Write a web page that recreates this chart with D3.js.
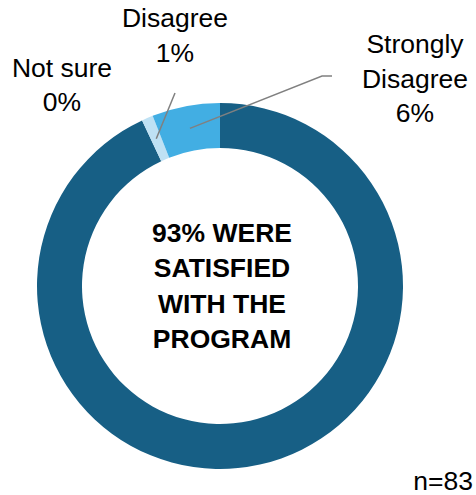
<!DOCTYPE html>
<meta charset="utf-8">
<script src="https://d3js.org/d3.v7.min.js"></script>
<style>
  body { margin: 0; background: #fff; }
  text { font-family: "Liberation Sans", Arial, sans-serif; fill: #000; }
</style>
<div id="my_dataviz"></div>
<script>

  // chart data
  var categories = ["Satisfied", "Not sure", "Disagree", "Strongly Disagree"];
  var values = [93, 0, 1, 6];
  var colors = ["#175f85", "#175f85", "#bee1f4", "#42aee3"];
  var centerLines = ["93% WERE", "SATISFIED", "WITH THE", "PROGRAM"];
  var sampleLabel = "n=83";

  var width = 476, height = 495;
  var cx = 220, cy = 286, outerR = 183, innerR = 138;

  var svg = d3.select("#my_dataviz")
    .append("svg")
      .attr("width", width)
      .attr("height", height);

  var g = svg.append("g")
      .attr("transform", "translate(" + cx + "," + cy + ")");

  var data = categories.map(function(c, i) { return {name: c, value: values[i], color: colors[i]}; });

  var pie = d3.pie()
    .sort(null)
    .value(function(d) { return d.value; });

  var arc = d3.arc()
    .innerRadius(innerR)
    .outerRadius(outerR);

  var arcs = pie(data);

  g.selectAll("path")
    .data(arcs)
    .enter()
    .append("path")
      .attr("d", arc)
      .style("fill", function(d) { return d.data.color; });

  // label placement (relative to donut centre); leader lines go to the arc centroid
  var labelLayout = {
    "Not sure":          {x: -158, y: [-209, -175], line: null},
    "Disagree":          {x: -45,  y: [-259, -224], line: [[-45, -193]]},
    "Strongly Disagree": {x: 195,  y: [-233, -198, -164], line: [[112, -210], [102, -210]]}
  };

  arcs.forEach(function(d) {
    var lay = labelLayout[d.data.name];
    if (!lay) return;
    var lines = d.data.name === "Strongly Disagree" ? ["Strongly", "Disagree"] : [d.data.name];
    lines.push(d.data.value + "%");

    if (lay.line) {
      var c = arc.centroid(d);
      var pts = lay.line.concat([c]);
      g.append("path")
        .attr("d", d3.line()(pts))
        .style("fill", "none")
        .style("stroke", "#808080")
        .style("stroke-width", 1.5);
    }

    g.selectAll(null)
      .data(lines)
      .enter()
      .append("text")
        .attr("x", lay.x)
        .attr("y", function(t, i) { return lay.y[i]; })
        .attr("text-anchor", "middle")
        .style("font-size", "26.5px")
        .text(function(t) { return t; });
  });

  // centre text
  g.selectAll(null)
    .data(centerLines)
    .enter()
    .append("text")
      .attr("x", 2)
      .attr("y", function(t, i) { return -44 + i * 35.3; })
      .attr("text-anchor", "middle")
      .style("font-size", "26.5px")
      .style("font-weight", "bold")
      .text(function(t) { return t; });

  svg.append("text")
    .attr("x", 473)
    .attr("y", 490)
    .attr("text-anchor", "end")
    .style("font-size", "26.5px")
    .text(sampleLabel);

</script>
